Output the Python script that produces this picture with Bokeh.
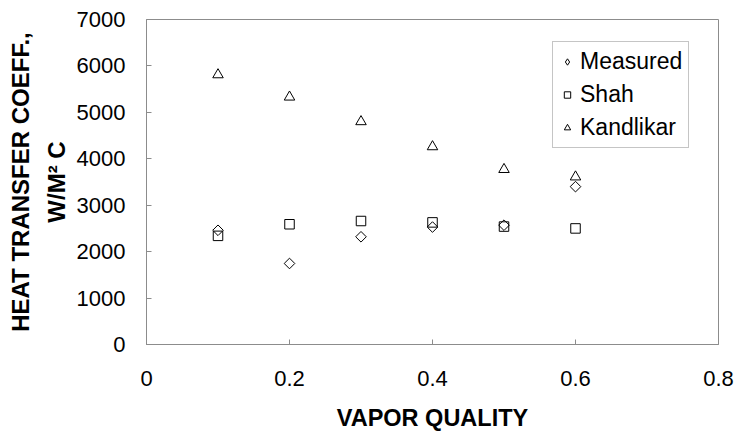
import numpy as np
from bokeh.plotting import figure
from bokeh.models import FixedTicker, Range1d, Legend, LegendItem
from bokeh.embed import file_html
from bokeh.resources import INLINE

# ---- data ----
quality = [0.1, 0.2, 0.3, 0.4, 0.5, 0.6]
measured = [2460, 1745, 2320, 2530, 2570, 3400]
shah = [2340, 2590, 2660, 2630, 2540, 2500]
kandlikar = [5810, 5330, 4800, 4260, 3770, 3610]

series_names = ["Measured", "Shah", "Kandlikar"]

x_ticks = [0, 0.2, 0.4, 0.6, 0.8]
x_tick_labels = ["0", "0.2", "0.4", "0.6", "0.8"]
y_ticks = [0, 1000, 2000, 3000, 4000, 5000, 6000, 7000]
y_tick_labels = ["0", "1000", "2000", "3000", "4000", "5000", "6000", "7000"]

FONT = "Liberation Sans"
GRAY = "#8c8c8c"

p = figure(width=735, height=434, output_backend="svg", toolbar_location=None,
           x_range=Range1d(0, 0.8), y_range=Range1d(0, 7000),
           min_border_left=146, min_border_right=17, min_border_top=19, min_border_bottom=90)

p.background_fill_color = "white"
p.border_fill_color = "white"
p.outline_line_color = GRAY
p.outline_line_width = 1
p.xgrid.visible = False
p.ygrid.visible = False

for ax in (p.xaxis[0], p.yaxis[0]):
    ax.axis_line_color = GRAY
    ax.major_tick_line_color = GRAY
    ax.major_tick_in = 5
    ax.major_tick_out = 0
    ax.minor_tick_line_color = None
    ax.major_label_text_font = FONT
    ax.major_label_text_font_size = "22px"
    ax.major_label_text_color = "black"
    ax.axis_label_text_font = FONT
    ax.axis_label_text_font_style = "bold"
    ax.axis_label_text_color = "black"

p.xaxis.ticker = FixedTicker(ticks=x_ticks)
p.xaxis.major_label_overrides = dict(zip(x_ticks, x_tick_labels))
p.xaxis.major_label_standoff = 26
p.xaxis.axis_label = "VAPOR QUALITY"
p.xaxis.axis_label_text_font_size = "23.5px"
p.xaxis.axis_label_standoff = 16

p.yaxis.ticker = FixedTicker(ticks=y_ticks)
p.yaxis.major_label_overrides = dict(zip(y_ticks, y_tick_labels))
p.yaxis.major_label_standoff = 21
p.yaxis.axis_label = "HEAT TRANSFER COEFF.,\nW/M\u00b2 C"
p.yaxis.axis_label_text_font_size = "24px"
p.yaxis.axis_label_text_line_height = 1.3
p.yaxis.axis_label_standoff = 4

style = dict(fill_color=None, line_color="black", line_width=1)
r_m = p.scatter(quality, measured, marker="square", angle=np.pi / 4, size=7.5, **style)
r_s = p.scatter(quality, shah, marker="square", size=9.5, **style)
r_k = p.scatter(quality, kandlikar, marker="triangle", size=10.5, **style)
# legend-only swatch for the diamond (legend glyphs are drawn unrotated); hidden in the plot
r_m_key = p.scatter(quality, measured, marker="diamond", size=10, visible=False, **style)

legend = Legend(items=[LegendItem(label=series_names[0], renderers=[r_m_key]),
                       LegendItem(label=series_names[1], renderers=[r_s]),
                       LegendItem(label=series_names[2], renderers=[r_k])],
                location=(406, 196))
legend.label_text_font = FONT
legend.label_text_font_size = "23px"
legend.label_text_color = "black"
legend.border_line_color = GRAY
legend.border_line_width = 1
legend.background_fill_color = "white"
legend.background_fill_alpha = 1
legend.padding = 6
legend.spacing = 6
legend.margin = 0
legend.glyph_width = 16
legend.glyph_height = 27
legend.label_height = 27
legend.label_standoff = 5
p.add_layout(legend, "center")

open("out.html", "w").write(file_html(p, INLINE))
